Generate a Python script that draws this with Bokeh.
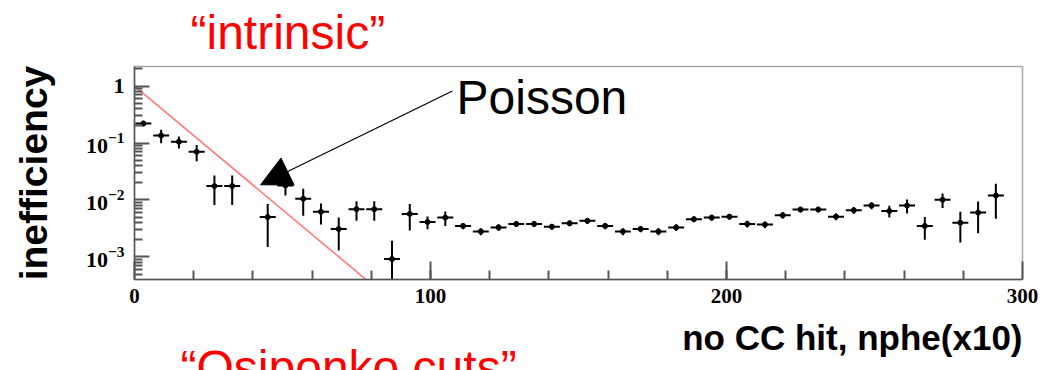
import numpy as np
from bokeh.plotting import figure
from bokeh.models import (Range1d, FixedTicker, Label, Arrow, NormalHead, Title,
                          LogTickFormatter, ColumnDataSource)
from bokeh.embed import file_html
from bokeh.resources import INLINE

# Bin centres in nphe(x10); bins are 6 wide, empty bins are left out
nphe_bins = [3, 9, 15, 21, 27, 33, 45, 51, 57, 63, 69, 75, 81, 87, 93, 99,
             105, 111, 117, 123, 129, 135, 141, 147, 153, 159, 165, 171, 177,
             183, 189, 195, 201, 207, 213, 219, 225, 231, 237, 243, 249, 255,
             261, 267, 273, 279, 285, 291]

# Measured inefficiency per bin
inefficiency = [0.22, 0.135, 0.105, 0.070, 0.0176, 0.0176, 0.0050, 0.018,
                0.0105, 0.0062, 0.0031, 0.0069, 0.0069, 0.00092, 0.0057, 0.0041,
                0.0049, 0.0035, 0.0028, 0.0033, 0.0038, 0.0038, 0.0034, 0.0039,
                0.0043, 0.0035, 0.0028, 0.0031, 0.0028, 0.0033, 0.0046, 0.0049,
                0.0051, 0.0038, 0.0037, 0.0054, 0.0068, 0.0068, 0.0051, 0.0066,
                0.0080, 0.0064, 0.0080, 0.0035, 0.0101, 0.0040, 0.0060, 0.0120]

# Statistical error on each bin
inefficiency_err = [0.026, 0.036, 0.025, 0.022, 0.0094, 0.0094, 0.0035, 0.006,
                    0.0052, 0.0025, 0.0018, 0.0026, 0.0026, 0.0010, 0.0028, 0.00105,
                    0.0014, 0.00045, 0.0004, 0.00045, 0.00045, 0.00045, 0.0004, 0.00045,
                    0.0005, 0.00045, 0.0004, 0.0004, 0.0004, 0.00045, 0.00055, 0.0006,
                    0.0006, 0.0005, 0.0005, 0.0007, 0.0008, 0.0008, 0.0007, 0.0009,
                    0.0011, 0.0015, 0.0022, 0.0015, 0.0029, 0.0022, 0.0034, 0.0073]

bin_half_width = 2.7

# Poisson expectation exp(-nphe): a straight line on the log axis
poisson_nphe = [0, 80]
poisson_ineff = [1.0, 3.35e-4]

x_major_ticks = [0, 100, 200, 300]
x_minor_ticks = list(range(20, 300, 20))
y_major_ticks = [1e-3, 1e-2, 1e-1, 1.0]

x = np.array(nphe_bins, dtype=float)
y = np.array(inefficiency)
e = np.array(inefficiency_err)
src = ColumnDataSource(dict(
    x=x, y=y,
    x0=x - bin_half_width, x1=x + bin_half_width,
    ylo=np.maximum(y - e, 1e-6), yhi=y + e,
))

p = figure(width=1051, height=370,
           x_range=Range1d(0, 300), y_range=Range1d(10 ** -3.396, 10 ** 0.343),
           y_axis_type="log", output_backend="svg", toolbar_location=None,
           min_border_left=134, min_border_right=29,
           min_border_top=62, min_border_bottom=90)
p.background_fill_color = "white"
p.border_fill_color = "white"
p.outline_line_color = "#a8a8a8"
p.outline_line_width = 1.5
p.grid.visible = False

axis_color = "#555555"
sans = "Liberation Sans"

# x axis
xa = p.xaxis[0]
xa.ticker = FixedTicker(ticks=x_major_ticks, minor_ticks=x_minor_ticks)
xa.axis_line_color = axis_color
xa.axis_line_width = 1.5
xa.major_tick_line_color = axis_color
xa.minor_tick_line_color = axis_color
xa.major_tick_line_width = 2
xa.minor_tick_line_width = 2
xa.major_tick_in = 18
xa.major_tick_out = 0
xa.minor_tick_in = 9
xa.minor_tick_out = 0
xa.major_label_standoff = 9
xa.major_label_text_font = "Liberation Serif"
xa.major_label_text_font_style = "bold"
xa.major_label_text_font_size = "21px"
xa.major_label_text_color = "black"

# log y axis, labels as 10 with a raised exponent
y_minor = [m * 10.0 ** k for k in range(-4, 1) for m in range(2, 10)]
ya = p.yaxis[0]
ya.ticker = FixedTicker(ticks=y_major_ticks, minor_ticks=y_minor)
ya.formatter = LogTickFormatter()
ya.major_label_overrides = {1: "1"}
ya.axis_line_color = axis_color
ya.axis_line_width = 1.5
ya.major_tick_line_color = axis_color
ya.minor_tick_line_color = axis_color
ya.major_tick_line_width = 2
ya.minor_tick_line_width = 2
ya.major_tick_in = 15
ya.major_tick_out = 0
ya.minor_tick_in = 8
ya.minor_tick_out = 0
ya.major_label_standoff = 10
ya.major_label_text_font = "Liberation Serif"
ya.major_label_text_font_style = "bold"
ya.major_label_text_font_size = "22px"
ya.major_label_text_color = "black"
ya.axis_label = "inefficiency"
ya.axis_label_standoff = 28
ya.axis_label_text_font = sans
ya.axis_label_text_font_style = "bold"
ya.axis_label_text_font_size = "39px"
ya.axis_label_text_color = "black"

# Poisson line
p.line(poisson_nphe, poisson_ineff, line_color="#ff7a7a", line_width=1.6)

# Histogram points with error bars
p.segment(x0="x0", y0="y", x1="x1", y1="y", source=src, line_color="black", line_width=2)
p.segment(x0="x", y0="ylo", x1="x", y1="yhi", source=src, line_color="black", line_width=2)
p.scatter(x="x", y="y", source=src, size=5, color="black")

p.add_layout(Label(x=108.8, y=0.62, text="Poisson", text_align="left",
                   text_baseline="alphabetic", text_font=sans, text_font_size="48px",
                   text_color="black"))
p.add_layout(Arrow(x_start=107.4, y_start=0.82, x_end=42.6, y_end=0.0185,
                   line_color="black", line_width=1.2,
                   end=NormalHead(size=30, fill_color="black", line_color="black")))

# Captions around the plot
top_note = Title(text="\u201cintrinsic\u201d", align="left", offset=56, standoff=11,
                 vertical_align="top", text_font=sans, text_font_style="normal",
                 text_font_size="48px", text_color="#ff0000")
p.add_layout(top_note, "above")

x_title = Title(text="no CC hit, nphe(x10)", align="right", offset=0, standoff=24,
                vertical_align="top", text_font=sans, text_font_style="bold",
                text_font_size="35px", text_color="black")
p.add_layout(x_title, "below")

bottom_note = Title(text="\u201cOsiponko cuts\u201d", align="left", offset=46,
                    vertical_align="top", text_font=sans, text_font_style="normal",
                    text_font_size="48px", text_color="#ff0000")
try:
    bottom_note.standoff = -60
except ValueError:
    bottom_note.standoff = 0
p.add_layout(bottom_note, "below")

open("out.html", "w").write(file_html(p, INLINE))
